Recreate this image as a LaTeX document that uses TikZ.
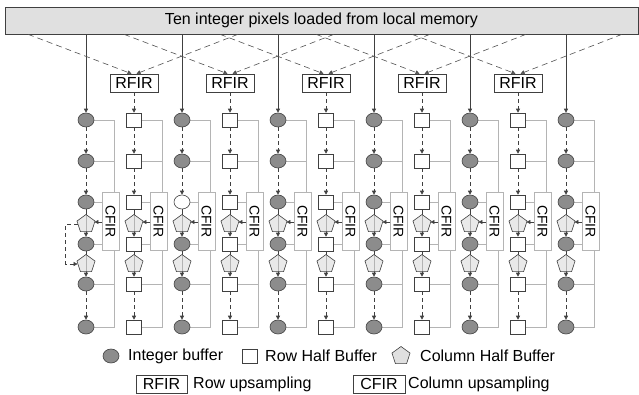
\documentclass[tikz,border=0pt]{standalone}
\usepackage{fontspec}
\setmainfont{Liberation Sans}
\usetikzlibrary{shapes.geometric,arrows.meta}
\pgfdeclarelayer{bg}
\pgfsetlayers{bg,main}
\definecolor{lineC}{HTML}{404040}
\definecolor{intC}{HTML}{8C8C8C}
\definecolor{pentC}{HTML}{E0E0E0}
\definecolor{brC}{HTML}{B4B4B4}
\definecolor{barC}{HTML}{E0E0E0}
\definecolor{dashC}{HTML}{505050}
\begin{document}
\begin{tikzpicture}[x=1pt,y=-1pt,
  intbuf/.style={ellipse,draw=lineC,fill=intC,minimum width=16pt,minimum height=14pt,inner sep=0pt,line width=0.6pt},
  whitebuf/.style={ellipse,draw=lineC,fill=white,minimum width=16pt,minimum height=14pt,inner sep=0pt,line width=0.6pt},
  rowbuf/.style={rectangle,draw=lineC,fill=white,minimum width=15pt,minimum height=14pt,inner sep=0pt,line width=0.6pt},
  colbuf/.style={regular polygon,regular polygon sides=5,draw=lineC,fill=pentC,fill opacity=0.72,minimum size=19pt,inner sep=0pt,line width=0.6pt},
  rfir/.style={rectangle,draw=lineC,fill=white,minimum width=48pt,minimum height=18pt,inner sep=0pt,line width=0.6pt,font=\fontsize{16}{18}\selectfont},
  cfir/.style={rectangle,draw=brC,fill=white,rotate=-90,minimum width=58pt,minimum height=17pt,inner sep=0pt,line width=0.8pt,font=\fontsize{14}{16}\selectfont},
  legbox/.style={rectangle,draw=lineC,fill=white,minimum height=18pt,inner sep=0pt,line width=0.6pt,font=\fontsize{16}{18}\selectfont},
  legtext/.style={anchor=west,inner sep=0pt,font=\fontsize{16}{19}\selectfont},
  arr/.style={-{Triangle[length=4pt,width=4pt]},draw=lineC,line width=0.6pt},
  darr/.style={arr,dash pattern=on 4pt off 3pt},
  topdash/.style={-{Triangle[length=4pt,width=4pt]},draw=dashC,line width=0.6pt,dash pattern=on 6pt off 4pt},
  bracket/.style={draw=brC,line width=0.8pt}]
\useasboundingbox (0,0) rectangle (639,394);

% top bar
\node[rectangle,draw=lineC,fill=barC,line width=0.7pt,minimum width=633pt,minimum height=27pt,inner sep=0pt,font=\fontsize{16}{19}\selectfont] (bar) at (321.5,20.7) {Ten integer pixels loaded from local memory};

% columns
\foreach \i in {0,...,10} {
  \pgfmathsetmacro\cx{86+48*\i}
  \ifodd\i\relax \def\bs{rowbuf}\def\bt{rowbuf}\else \def\bs{intbuf}\def\bt{intbuf}\fi
  \ifnum\i=2\relax \def\bt{whitebuf}\fi
  \node[\bs] (A\i) at (\cx,120) {};
  \node[\bs] (B\i) at (\cx,161) {};
  \node[\bt] (C\i) at (\cx,202) {};
  \node[\bs] (D\i) at (\cx,244) {};
  \node[\bs] (E\i) at (\cx,284) {};
  \node[\bs] (F\i) at (\cx,327) {};
  \coordinate (vt\i) at (\cx+28.5,120);
  \coordinate (vb\i) at (\cx+28.5,327);
  \coordinate (kw\i) at (\cx+16,222);
  \begin{pgfonlayer}{bg}
    \draw[bracket] (A\i) -- (vt\i) -- (vb\i) -- (F\i);
    \draw[bracket] (B\i) -- (B\i -| vt\i);
    \draw[bracket] (C\i) -- (C\i -| vt\i);
    \draw[bracket] (D\i) -- (D\i -| vt\i);
    \draw[bracket] (E\i) -- (E\i -| vt\i);
    \draw[arr] (C\i) -- (D\i);
    \draw[arr] (D\i) -- (E\i);
  \end{pgfonlayer}
  \node[colbuf] (P\i) at (\cx,224) {};
  \node[colbuf] (Q\i) at (\cx,264) {};
  \node[cfir] (K\i) at (\cx+24.5,221.5) {CFIR};
  \draw[darr] (A\i) -- (B\i);
  \draw[darr] (B\i) -- (C\i);
  \draw[darr] (E\i) -- (F\i);
  \draw[arr] (kw\i) -- (kw\i -| P\i.east);
}

% integer pixels from memory
\foreach \i in {0,2,4,6,8,10} {
  \draw[arr] (bar.south -| A\i) -- (A\i);
}

% row FIRs
\foreach \k in {0,...,4} {
  \pgfmathsetmacro\rx{134+96*\k}
  \pgfmathtruncatemacro\col{2*\k+1}
  \node[rfir] (R\k) at (\rx,83) {RFIR};
  \coordinate (dl\k) at (\rx-106,34.3);
  \coordinate (dr\k) at (\rx+104,34.3);
  \draw[topdash] (dl\k) -- ([xshift=-2.5pt]R\k.north);
  \draw[topdash] (dr\k) -- ([xshift=2.5pt]R\k.north);
  \draw[darr] (R\k) -- (A\col);
}

% feedback loop in first column
\draw[darr] (P0.west) -- ++(-12,0) |- (Q0.west);

% legend
\node[intbuf] (L1) at (111,356) {};
\node[legtext] (T1) at (128,356) {Integer buffer};
\node[rowbuf] (L2) at (250,356) {};
\node[legtext] (T2) at (265,356) {Row Half Buffer};
\node[colbuf,fill opacity=1] (L3) at (401,356) {};
\node[legtext] (T3) at (420,356) {Column Half Buffer};
\node[legbox,minimum width=51pt] (L4) at (161.5,384) {RFIR};
\node[legtext] (T4) at (193,384) {Row upsampling};
\node[legbox,minimum width=52pt] (L5) at (379,384) {CFIR};
\node[legtext] (T5) at (408,384) {Column upsampling};
\end{tikzpicture}
\end{document}
